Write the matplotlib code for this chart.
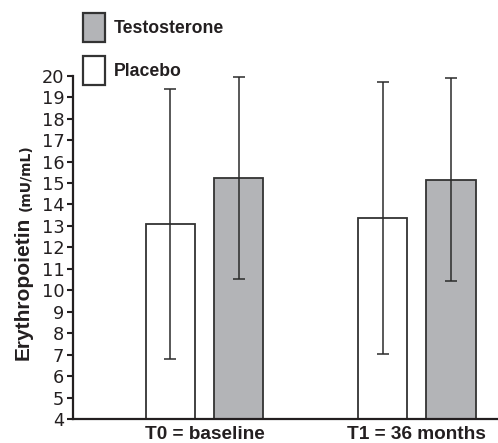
import matplotlib
matplotlib.use("Agg")
import matplotlib.pyplot as plt
import numpy as np

# Data
timepoints = ["T0 = baseline", "T1 = 36 months"]
placebo_mean = [13.10, 13.37]
placebo_sd = [6.29, 6.35]
testo_mean = [15.22, 15.15]
testo_sd = [4.70, 4.73]
yticks = list(range(4, 21))

fig = plt.figure(figsize=(4.98, 4.43), dpi=100)
ax = fig.add_axes([0.146, 0.0542, 0.854, 0.7748])

x = np.arange(len(timepoints))
off = 0.161
w = 0.232
edge = "#333333"
err_kw = dict(ecolor="#2b2b2b", elinewidth=1.1, capsize=4, capthick=1.1)

b_tes = ax.bar(x + off, testo_mean, width=w, yerr=testo_sd, color="#b3b4b7",
               edgecolor=edge, linewidth=1.3, error_kw=err_kw, label="Testosterone", zorder=2)
b_pla = ax.bar(x - off, placebo_mean, width=w, yerr=placebo_sd, color="white",
               edgecolor=edge, linewidth=1.3, error_kw=err_kw, label="Placebo", zorder=2)

ax.set_xlim(-0.622, 1.383)
ax.set_ylim(4, 20)
ax.set_yticks(yticks)
ax.set_yticklabels([str(t) for t in yticks], fontsize=12.8, color="#231f20",
                   family="DejaVu Sans")
ax.set_xticks(x)
ax.set_xticklabels(timepoints, fontsize=13.7, fontweight="bold",
                   family="Liberation Sans", color="#231f20")
ax.tick_params(axis="x", length=0, pad=5)
ax.tick_params(axis="y", direction="out", length=4, width=1.5, color="#231f20", pad=2)

for s in ["top", "right"]:
    ax.spines[s].set_visible(False)
for s in ["left", "bottom"]:
    ax.spines[s].set_linewidth(1.6)
    ax.spines[s].set_color("#231f20")

# y label in two parts
fig.text(23 / 498, 1 - 288 / 443, "Erythropoietin", rotation=90, ha="center", va="center",
         fontsize=15, fontweight="bold", family="Liberation Sans", color="#231f20")
fig.text(26 / 498, 1 - 178 / 443, "(mU/mL)", rotation=90, ha="center", va="center",
         fontsize=10, fontweight="bold", family="DejaVu Sans", color="#231f20")

leg = fig.legend(handles=[b_tes, b_pla], labels=["Testosterone", "Placebo"],
                 loc="upper left", bbox_to_anchor=(82.7 / 498, 1 - 13.3 / 443),
                 frameon=False, borderpad=0, borderaxespad=0,
                 handlelength=1.25, handleheight=2.13, labelspacing=0.8,
                 handletextpad=0.5,
                 prop=dict(family="Liberation Sans", weight="bold", size=12.7))
for t in leg.get_texts():
    t.set_color("#231f20")
for h in leg.legend_handles:
    h.set_linewidth(1.6)
    h.set_edgecolor(edge)

fig.savefig("out.png", dpi=100)
